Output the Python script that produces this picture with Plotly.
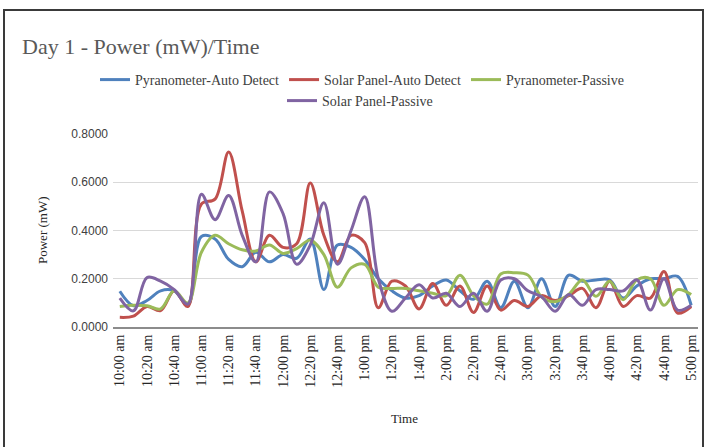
import plotly.graph_objects as go

times = ["10:00 am","10:10 am","10:20 am","10:30 am","10:40 am","10:50 am",
         "11:00 am","11:10 am","11:20 am","11:30 am","11:40 am","11:50 am",
         "12:00 pm","12:10 pm","12:20 pm","12:30 pm","12:40 pm","12:50 pm",
         "1:00 pm","1:10 pm","1:20 pm","1:30 pm","1:40 pm","1:50 pm",
         "2:00 pm","2:10 pm","2:20 pm","2:30 pm","2:40 pm","2:50 pm",
         "3:00 pm","3:10 pm","3:20 pm","3:30 pm","3:40 pm","3:50 pm",
         "4:00 pm","4:10 pm","4:20 pm","4:30 pm","4:40 pm","4:50 pm","5:00 pm"]

pyr_auto = [0.148,0.088,0.110,0.150,0.150,0.090,0.375,0.365,0.280,0.250,0.310,0.270,
            0.300,0.285,0.365,0.155,0.340,0.330,0.280,0.200,0.150,0.120,0.130,0.170,
            0.195,0.150,0.115,0.190,0.080,0.190,0.080,0.200,0.085,0.215,0.190,0.195,
            0.195,0.120,0.170,0.200,0.200,0.210,0.090]
sol_auto = [0.040,0.045,0.085,0.068,0.150,0.085,0.510,0.530,0.725,0.480,0.270,0.380,
            0.330,0.345,0.597,0.380,0.270,0.380,0.350,0.080,0.190,0.170,0.075,0.180,
            0.090,0.170,0.060,0.170,0.070,0.110,0.085,0.130,0.110,0.130,0.160,0.080,
            0.190,0.085,0.130,0.120,0.230,0.058,0.085]
pyr_pass = [0.085,0.090,0.088,0.075,0.150,0.100,0.310,0.380,0.345,0.320,0.315,0.340,
            0.305,0.325,0.360,0.300,0.165,0.245,0.260,0.165,0.160,0.160,0.150,0.140,
            0.130,0.215,0.130,0.095,0.220,0.225,0.215,0.125,0.105,0.135,0.195,0.127,
            0.190,0.113,0.195,0.200,0.090,0.155,0.135]
sol_pass = [0.120,0.067,0.205,0.190,0.155,0.095,0.550,0.445,0.545,0.380,0.270,0.560,
            0.470,0.260,0.340,0.515,0.260,0.400,0.540,0.200,0.065,0.120,0.175,0.120,
            0.140,0.085,0.140,0.065,0.195,0.200,0.150,0.125,0.065,0.135,0.090,0.155,
            0.155,0.150,0.196,0.070,0.200,0.070,0.090]

names = ["Pyranometer-Auto Detect", "Solar Panel-Auto Detect",
         "Pyranometer-Passive", "Solar Panel-Passive"]
colors = ["#4F81BD", "#C0504D", "#9BBB59", "#8064A2"]
series = [pyr_auto, sol_auto, pyr_pass, sol_pass]

tick_labels = times[::2]
y_ticks = [0.0, 0.2, 0.4, 0.6, 0.8]

SERIF = "Liberation Serif"
SANS = "Liberation Sans"

fig = go.Figure()
for k, (nm, col, vals) in enumerate(zip(names, colors, series)):
    fig.add_trace(go.Scatter(
        x=times, y=vals, name=nm, mode="lines",
        line=dict(color=col, width=3, shape="spline", smoothing=1.0),
        legend="legend2" if k == 3 else "legend",
    ))

W, H = 708, 447
L, R, T, B = 113, 10, 134, 120
pw, ph = W - L - R, H - T - B

def px(xp):
    return (xp - L) / pw

def py(yp):
    return (H - B - yp) / ph

legend_common = dict(orientation="h", xanchor="center", yanchor="middle",
                     font=dict(family=SERIF, size=14, color="#404040"),
                     itemwidth=30, bgcolor="rgba(0,0,0,0)", tracegroupgap=0)

fig.update_layout(
    width=W, height=H,
    margin=dict(l=L, r=R, t=T, b=B),
    paper_bgcolor="white", plot_bgcolor="white",
    title=dict(text="Day 1 - Power (mW)/Time", x=22 / W, xanchor="left",
               y=1 - 46 / H, yanchor="middle", yref="container",
               font=dict(family=SERIF, size=22, color="#595959")),
    legend=dict(x=px(362), y=py(80), **legend_common),
    legend2=dict(x=px(360), y=py(101), **legend_common),
    xaxis=dict(type="category", range=[-0.5, len(times) - 0.5],
               tickmode="array", tickvals=tick_labels, ticktext=tick_labels,
               tickangle=-90, showgrid=False, showline=True,
               linecolor="#8C8C8C", linewidth=2, ticks="",
               tickfont=dict(family=SERIF, size=14, color="#262626")),
    yaxis=dict(range=[0, 0.8], tickvals=y_ticks, tickformat=".4f",
               showgrid=True, gridcolor="#D9D9D9", gridwidth=1,
               zeroline=False, showline=False, ticks="",
               ticklabelstandoff=4,
               tickfont=dict(family=SANS, size=12, color="#404040")),
    annotations=[
        dict(text="Time", x=px(404), y=py(418), xref="paper", yref="paper",
             showarrow=False, xanchor="center", yanchor="middle",
             font=dict(family=SERIF, size=13, color="#262626")),
        dict(text="Power (mW)", x=px(42), y=py(230), xref="paper", yref="paper",
             showarrow=False, xanchor="center", yanchor="middle", textangle=-90,
             font=dict(family=SERIF, size=13, color="#262626")),
    ],
    shapes=[dict(type="rect", xref="paper", yref="paper",
                 x0=px(4), x1=px(703), y0=py(452), y1=py(10),
                 line=dict(color="#3A3A3A", width=2), fillcolor="rgba(0,0,0,0)",
                 layer="below")],
    showlegend=True,
)

fig.write_html("out.html")
